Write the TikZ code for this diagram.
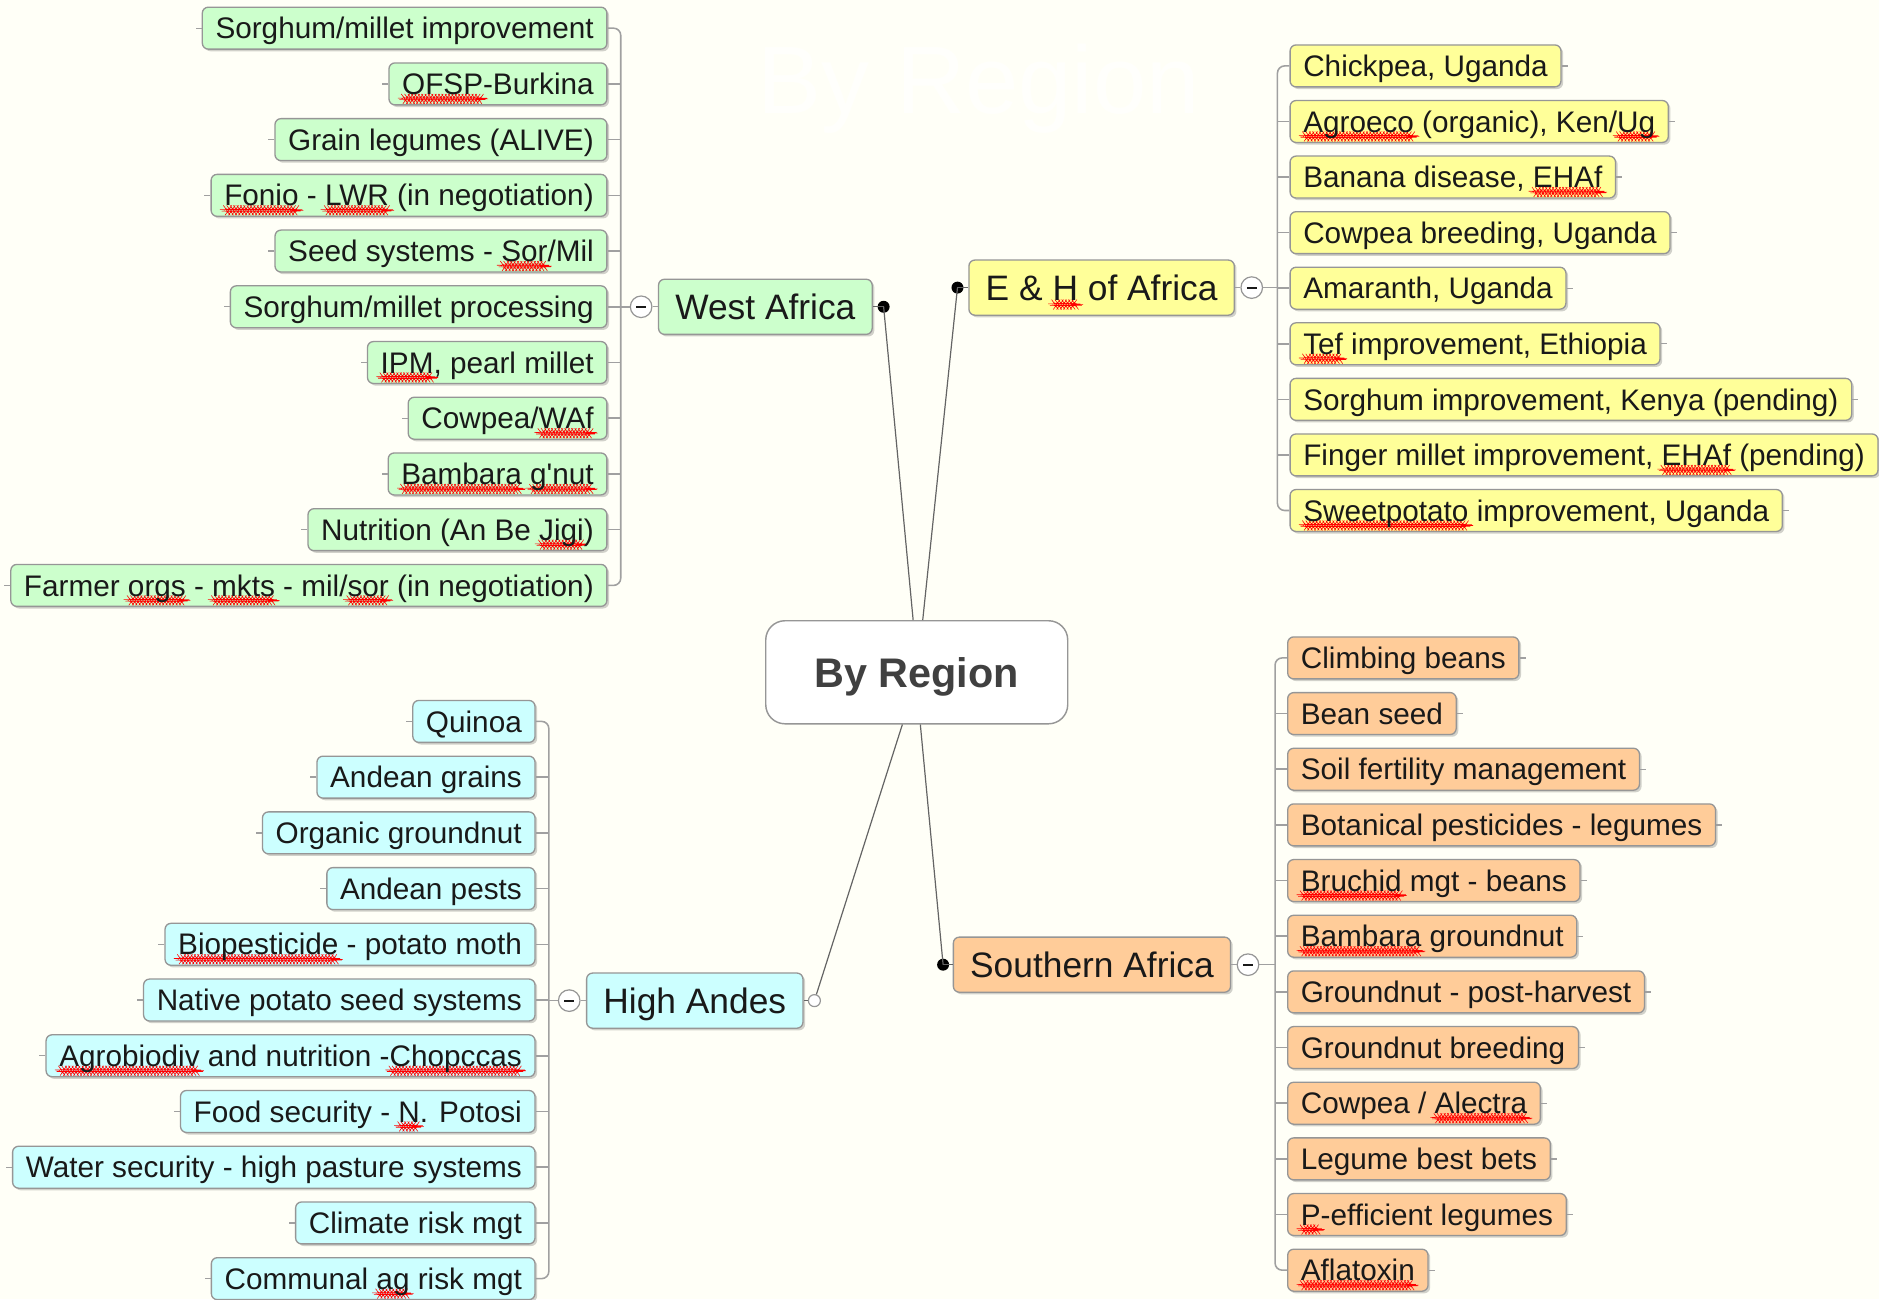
\documentclass[tikz,border=0pt]{standalone}
\usepackage{fontspec}
\usetikzlibrary{calc,shadows,decorations.pathmorphing}
\newfontfamily\af{Liberation Sans}
\newsavebox\sqbox
\newlength\sqw
\newcommand\sq[1]{\sbox\sqbox{#1}\sqw=\wd\sqbox\leavevmode\rlap{\tikz[baseline=0pt,x=1pt,y=1pt]\draw[overlay,draw=red,line width=0.45pt,decorate,decoration={snake,amplitude=0.65pt,segment length=2.8pt}] (0.5,-3.6) -- (\sqw-0.5pt,-3.6);}\usebox\sqbox}
\definecolor{bg}{RGB}{255,255,247}
\definecolor{wmark}{RGB}{255,255,252}
\definecolor{cgreen}{RGB}{204,255,204}
\definecolor{cyellow}{RGB}{255,255,153}
\definecolor{corange}{RGB}{255,204,153}
\definecolor{ccyan}{RGB}{204,255,255}
\definecolor{bord}{RGB}{150,150,150}
\definecolor{txt}{RGB}{25,25,25}
\definecolor{mainln}{RGB}{100,100,100}
\definecolor{brkln}{RGB}{160,160,160}
\definecolor{ctrtxt}{RGB}{64,64,64}
\tikzset{
  boxbase/.style={draw=bord, line width=1.1pt, rounded corners=5pt, text=txt,
    inner ysep=0pt, drop shadow={shadow xshift=1.8pt, shadow yshift=-1.8pt, fill=black, opacity=0.18}},
  kid/.style={boxbase, font=\af\fontsize{24.8}{28}\selectfont, minimum height=35pt,
    inner xsep=11pt, text height=20pt, text depth=2.2pt},
  mainbox/.style={boxbase, font=\af\fontsize{29.5}{34}\selectfont, minimum height=46pt,
    inner xsep=14pt, text height=24pt, text depth=2.9pt},
  ctrbox/.style={draw=bord, line width=1.2pt, rounded corners=16pt, fill=white,
    minimum width=252pt, minimum height=86pt, text=ctrtxt, text height=27pt, text depth=2.3pt,
    font=\af\bfseries\fontsize{34.5}{40}\selectfont},
  collapse/.style={circle, draw=bord, line width=1pt, fill=white, minimum size=18pt,
    inner sep=0pt, text=txt},
  dotb/.style={circle, fill=black, minimum size=10pt, inner sep=0pt},
  doto/.style={circle, draw=bord, line width=1pt, fill=white, minimum size=10pt, inner sep=0pt},
  mainline/.style={draw=mainln, line width=1pt},
  brk/.style={draw=brkln, line width=1.3pt, rounded corners=6pt},
  stub/.style={draw=brkln, line width=1.1pt}
}
\begin{document}
\begin{tikzpicture}[x=1pt,y=-1pt]
\fill[bg] (0,0) rectangle (1568,1084);
\useasboundingbox (0,0) rectangle (1568,1084);

% watermark
\node[anchor=base west, inner sep=0pt, text=wmark, font=\af\fontsize{80}{90}\selectfont] (wm) at (632,95) {By Region};

% central node
\node[ctrbox] (ctr) at (765,561) {By Region};

% main branches
\node[mainbox, fill=cgreen, anchor=west] (wa) at (549,256) {West Africa};
\node[mainbox, fill=cyellow, anchor=west] (eh) at (808,240) {E \& \sq{H} of Africa};
\node[mainbox, fill=corange, anchor=west] (sa) at (795,805) {Southern Africa};
\node[mainbox, fill=ccyan, anchor=west] (ha) at (489,835) {High Andes};

\node[dotb] (wad) at ([xshift=9pt]wa.east) {};
\node[dotb] (ehd) at ([xshift=-9pt]eh.west) {};
\node[dotb] (sad) at ([xshift=-8pt]sa.west) {};
\node[doto] (had) at ([xshift=9pt]ha.east) {};

\node[collapse] (wac) at ([xshift=-14pt]wa.west) {\rule{8pt}{1.6pt}};
\node[collapse] (ehc) at ([xshift=14pt]eh.east) {\rule{8pt}{1.6pt}};
\node[collapse] (sac) at ([xshift=14pt]sa.east) {\rule{8pt}{1.6pt}};
\node[collapse] (hac) at ([xshift=-14pt]ha.west) {\rule{8pt}{1.6pt}};

% connectors to centre
\coordinate (ctn1) at ($(ctr.north)+(-3,0)$);
\coordinate (ctn2) at ($(ctr.north)+(5,0)$);
\coordinate (cts1) at ($(ctr.south)+(-12,0)$);
\coordinate (cts2) at ($(ctr.south)+(3,0)$);
\draw[mainline] (wad.center) -- (ctn1);
\draw[mainline] (ehd.center) -- (ctn2);
\draw[mainline] (had) -- (cts1);
\draw[mainline] (sad.center) -- (cts2);
\draw[mainline] (wad.center) -- (wa.east);
\draw[mainline] (ehd.center) -- (eh.west);
\draw[mainline] (sad.center) -- (sa.west);
\draw[mainline] (had) -- (ha.east);

% West Africa children
\foreach \t [count=\i] in {
  {Sorghum/millet improvement},
  {\sq{OFSP}-Burkina},
  {Grain legumes (ALIVE)},
  {\sq{Fonio} - \sq{LWR} (in negotiation)},
  {Seed systems - \sq{Sor}/Mil},
  {Sorghum/millet processing},
  {\sq{IPM}, pearl millet},
  {Cowpea/\sq{WAf}},
  {\sq{Bambara} \sq{g'nut}},
  {Nutrition (An Be \sq{Jigi})},
  {Farmer \sq{orgs} - \sq{mkts} - mil/\sq{sor} (in negotiation)}}
{
  \node[kid, fill=cgreen, anchor=east] (w\i) at (507,{23.5+46.5*(\i-1)}) {\t};
  \draw[stub] (w\i.west) -- ++(-5,0);
}
\coordinate (wb) at (518,256);
\draw[brk] (w1.east) -| (wb) |- (w11.east);
\foreach \i in {2,...,10} {\draw[brk] (w\i.east) -- (w\i.east -| wb);}
\draw[brk] (wb) -- (wac);
\draw[stub] (wac) -- (wa.west);

% E & H children
\foreach \t [count=\i] in {
  {Chickpea, Uganda},
  {\sq{Agroeco} (organic), Ken/\sq{Ug}},
  {Banana disease, \sq{EHAf}},
  {Cowpea breeding, Uganda},
  {Amaranth, Uganda},
  {\sq{Tef} improvement, Ethiopia},
  {Sorghum improvement, Kenya (pending)},
  {Finger millet improvement, \sq{EHAf} (pending)},
  {\sq{Sweetpotato} improvement, Uganda}}
{
  \node[kid, fill=cyellow, anchor=west] (e\i) at (1076,{55+46.375*(\i-1)}) {\t};
  \draw[stub] (e\i.east) -- ++(5,0);
}
\coordinate (eb) at (1066,240);
\draw[brk] (e1.west) -| (eb) |- (e9.west);
\foreach \i in {2,...,8} {\draw[brk] (e\i.west) -- (e\i.west -| eb);}
\draw[brk] (eb) -- (ehc);
\draw[stub] (ehc) -- (eh.east);

% Southern Africa children
\foreach \t [count=\i] in {
  {Climbing beans},
  {Bean seed},
  {Soil fertility management},
  {Botanical pesticides - legumes},
  {\sq{Bruchid} mgt - beans},
  {\sq{Bambara} groundnut},
  {Groundnut - post-harvest},
  {Groundnut breeding},
  {Cowpea / \sq{Alectra}},
  {Legume best bets},
  {\sq{P}-efficient legumes},
  {\sq{Aflatoxin}}}
{
  \node[kid, fill=corange, anchor=west] (s\i) at (1074,{549+46.45*(\i-1)}) {\t};
  \draw[stub] (s\i.east) -- ++(5,0);
}
\coordinate (sb) at (1064,805);
\draw[brk] (s1.west) -| (sb) |- (s12.west);
\foreach \i in {2,...,11} {\draw[brk] (s\i.west) -- (s\i.west -| sb);}
\draw[brk] (sb) -- (sac);
\draw[stub] (sac) -- (sa.east);

% High Andes children
\foreach \t [count=\i] in {
  {Quinoa},
  {Andean grains},
  {Organic groundnut},
  {Andean pests},
  {\sq{Biopesticide} - potato moth},
  {Native potato seed systems},
  {\sq{Agrobiodiv} and nutrition -\sq{Chopccas}},
  {Food security - \sq{N}. Potosi},
  {Water security - high pasture systems},
  {Climate risk mgt},
  {Communal \sq{ag} risk mgt}}
{
  \node[kid, fill=ccyan, anchor=east] (h\i) at (447,{602+46.5*(\i-1)}) {\t};
  \draw[stub] (h\i.west) -- ++(-5,0);
}
\coordinate (hb) at (458,835);
\draw[brk] (h1.east) -| (hb) |- (h11.east);
\foreach \i in {2,...,10} {\draw[brk] (h\i.east) -- (h\i.east -| hb);}
\draw[brk] (hb) -- (hac);
\draw[stub] (hac) -- (ha.west);
\end{tikzpicture}
\end{document}
